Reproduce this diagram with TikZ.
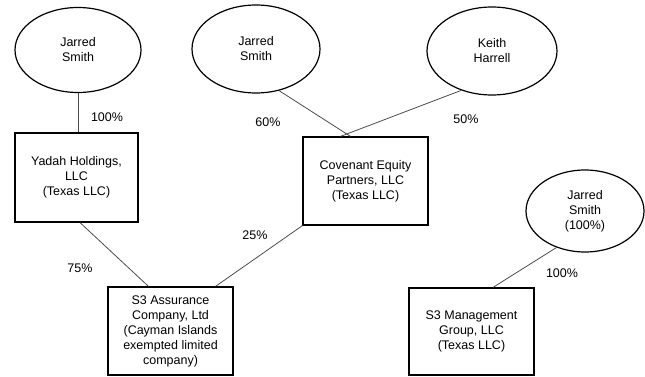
\documentclass[tikz,border=0pt]{standalone}
\usepackage{fontspec}
\setmainfont{Liberation Sans}
\usetikzlibrary{shapes.geometric,calc}
\begin{document}
\begin{tikzpicture}[x=1pt,y=-1pt,
  owner/.style={ellipse,draw=black,line width=1.2pt,inner sep=0pt,align=center,font=\fontsize{12.5}{15}\selectfont},
  entity/.style={rectangle,draw=black,line width=1.2pt,inner sep=0pt,align=center,font=\fontsize{12.5}{15}\selectfont,minimum width=124pt},
  link/.style={draw=black!70,line width=0.8pt},
  pct/.style={font=\fontsize{12.5}{15}\selectfont,inner sep=0pt}]
\useasboundingbox (0,0) rectangle (645,377);
\node[owner,minimum width=126pt,minimum height=85pt] (e1) at (78,50) {Jarred\\Smith};
\node[owner,minimum width=128pt,minimum height=88pt] (e2) at (256,49) {Jarred\\Smith};
\node[owner,minimum width=130pt,minimum height=88pt] (e3) at (492,51) {Keith\\Harrell};
\node[owner,minimum width=118pt,minimum height=82pt] (e4) at (585,211) {Jarred\\Smith\\(100\%)};
\node[entity,minimum width=123pt,minimum height=89pt] (yad) at (76.5,177.5) {Yadah Holdings,\\LLC\\(Texas LLC)};
\node[entity,minimum width=125pt,minimum height=88pt] (cov) at (365.5,181) {Covenant Equity\\Partners, LLC\\(Texas LLC)};
\node[entity,minimum width=125pt,minimum height=88pt] (s3a) at (170.5,331) {S3 Assurance\\Company, Ltd\\(Cayman Islands\\exempted limited\\company)};
\node[entity,minimum width=125pt,minimum height=87pt] (s3m) at (471.5,331.5) {S3 Management\\Group, LLC\\(Texas LLC)};
\draw[link] (e1.south) -- (e1.south |- yad.north);
\draw[link] (e2.-61) -- ($(cov.north)+(-15,0)$);
\draw[link] (e3.232) -- ($(cov.north)+(-25,0)$);
\draw[link] ($(yad.south)+(3.5,0)$) -- ($(s3a.north)+(-22,0)$);
\draw[link] (cov.south west) -- ($(s3a.north)+(45,0)$);
\draw[link] (e4.232) -- ($(s3m.north)+(21.5,0)$);
\node[pct] (p1) at (107,117) {100\%};
\node[pct] (p2) at (268,122) {60\%};
\node[pct] (p3) at (466,119) {50\%};
\node[pct] (p4) at (80,268) {75\%};
\node[pct] (p5) at (255,235) {25\%};
\node[pct] (p6) at (562,273) {100\%};
\end{tikzpicture}
\end{document}
